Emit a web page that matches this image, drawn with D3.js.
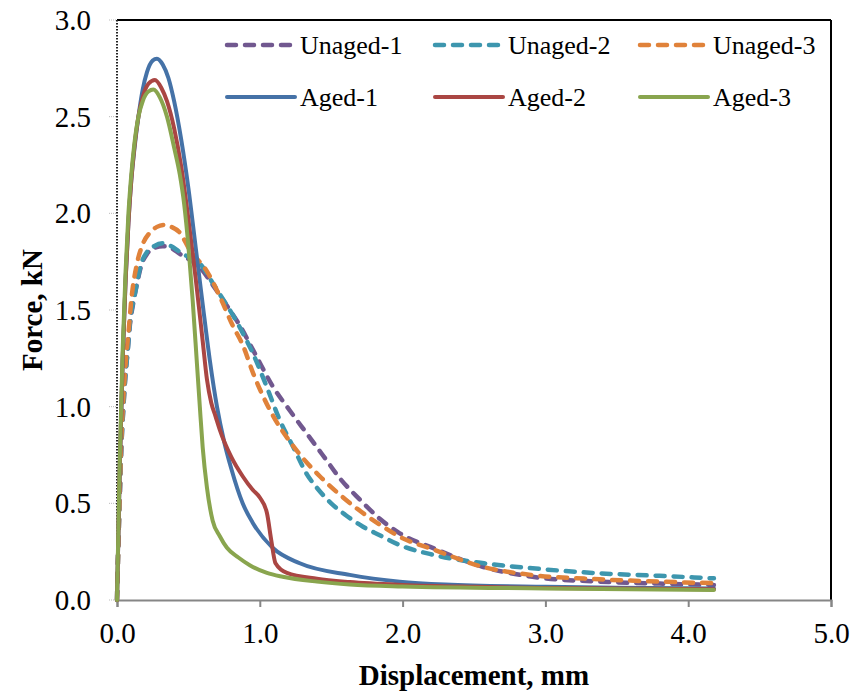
<!DOCTYPE html>
<html><head><meta charset="utf-8">
<script src="https://cdn.jsdelivr.net/npm/d3@7"></script>
<style>body{margin:0;background:#fff}svg{display:block}</style>
</head><body><svg id="c" width="867" height="694"></svg>
<script>
const seriesNames = ["Unaged-1","Unaged-2","Unaged-3","Aged-1","Aged-2","Aged-3"];
const seriesColors = ["#71588f","#3d96ae","#e0823a","#4572a7","#aa4643","#89a54e"];
const seriesDashed = [true,true,true,false,false,false];
const xTicks = [0,1,2,3,4,5];
const yTicks = [0,0.5,1,1.5,2,2.5,3];

const unaged1X = [0,0.01,0.02,0.03,0.045,0.06,0.075,0.09,0.11,0.13,0.15,0.17,0.21,0.26,0.32,0.38,0.44,0.51,0.58,0.67,0.79,0.86,0.955,1.095,1.21,1.33,1.47,1.56,1.7,1.84,1.98,2.22,2.56,2.91,3.38,3.8,4.18];
const unaged1Y = [0,0.3,0.55,0.78,1.0,1.17,1.29,1.42,1.52,1.6,1.67,1.73,1.79,1.82,1.83,1.82,1.79,1.76,1.72,1.63,1.5,1.42,1.29,1.1,0.98,0.86,0.72,0.63,0.52,0.42,0.345,0.267,0.172,0.12,0.095,0.085,0.078];

const unaged2X = [0,0.01,0.02,0.03,0.045,0.06,0.075,0.09,0.11,0.13,0.15,0.17,0.21,0.26,0.32,0.38,0.44,0.51,0.58,0.67,0.73,0.79,0.86,0.955,1.05,1.14,1.235,1.33,1.4,1.5,1.6,1.72,1.84,1.98,2.22,2.57,2.91,3.38,3.8,4.18];
const unaged2Y = [0,0.3,0.55,0.78,1.0,1.17,1.29,1.43,1.53,1.6,1.68,1.74,1.8,1.83,1.845,1.83,1.8,1.77,1.74,1.64,1.57,1.5,1.41,1.27,1.1,0.93,0.79,0.65,0.58,0.5,0.44,0.38,0.335,0.284,0.233,0.19,0.164,0.138,0.125,0.112];

const unaged3X = [0,0.01,0.02,0.03,0.045,0.068,0.08,0.1,0.14,0.18,0.23,0.28,0.33,0.38,0.44,0.51,0.63,0.72,0.81,0.88,0.955,1.095,1.21,1.33,1.42,1.6,1.84,1.98,2.22,2.56,2.91,3.38,3.8,4.18];
const unaged3Y = [0,0.3,0.58,0.82,1.05,1.29,1.38,1.55,1.74,1.84,1.9,1.93,1.94,1.93,1.9,1.81,1.7,1.57,1.42,1.32,1.17,0.95,0.82,0.71,0.64,0.52,0.39,0.327,0.26,0.172,0.129,0.107,0.095,0.087];

const aged1X = [0,0.01,0.02,0.04,0.06,0.08,0.1,0.12,0.15,0.18,0.21,0.25,0.28,0.32,0.36,0.4,0.45,0.5,0.55,0.6,0.65,0.7,0.75,0.8,0.88,0.95,1.09,1.28,1.63,1.98,2.3,3.0,3.5,4.18];
const aged1Y = [0,0.35,0.7,1.25,1.65,1.95,2.17,2.32,2.5,2.64,2.73,2.79,2.8,2.77,2.7,2.58,2.38,2.13,1.83,1.53,1.24,1.0,0.82,0.68,0.5,0.4,0.27,0.19,0.13,0.095,0.08,0.068,0.063,0.06];

const aged2X = [0,0.01,0.02,0.04,0.06,0.08,0.1,0.12,0.15,0.18,0.22,0.266,0.31,0.35,0.4,0.45,0.5,0.55,0.6,0.63,0.66,0.69,0.72,0.8,0.88,0.95,1.0,1.05,1.08,1.11,1.19,1.4,1.63,2.0,2.5,3.0,4.18];
const aged2Y = [0,0.35,0.7,1.25,1.65,1.95,2.17,2.33,2.5,2.6,2.67,2.69,2.65,2.58,2.44,2.24,1.97,1.67,1.34,1.14,1.02,0.95,0.88,0.74,0.64,0.57,0.53,0.45,0.31,0.19,0.14,0.11,0.093,0.078,0.068,0.062,0.055];

const aged3X = [0,0.01,0.02,0.04,0.06,0.08,0.1,0.12,0.15,0.18,0.22,0.255,0.3,0.35,0.4,0.44,0.47,0.5,0.53,0.56,0.58,0.6,0.63,0.67,0.72,0.77,0.85,0.93,1.05,1.16,1.4,1.63,2.0,3.0,4.18];
const aged3Y = [0,0.38,0.75,1.3,1.7,2.0,2.2,2.35,2.5,2.58,2.63,2.64,2.6,2.5,2.34,2.2,2.05,1.83,1.55,1.22,1.0,0.79,0.58,0.41,0.33,0.27,0.22,0.18,0.14,0.12,0.095,0.08,0.07,0.06,0.052];

const seriesX = [unaged1X,unaged2X,unaged3X,aged1X,aged2X,aged3X];
const seriesY = [unaged1Y,unaged2Y,unaged3Y,aged1Y,aged2Y,aged3Y];

const svg = d3.select("#c");
const L=117, R=831, T=20, B=600;
const x = d3.scaleLinear().domain([0,5]).range([L,R]);
const y = d3.scaleLinear().domain([0,3]).range([B,T]);
const font = "'Liberation Serif','Times New Roman',serif";

// frame top & right
svg.append("line").attr("x1",L).attr("x2",R).attr("y1",T).attr("y2",T).attr("stroke","#000").attr("stroke-width",2);
svg.append("line").attr("x1",R).attr("x2",R).attr("y1",T).attr("y2",B).attr("stroke","#000").attr("stroke-width",2);

// y ticks (faint)
svg.append("g").selectAll("line").data(yTicks).join("line")
  .attr("x1",L-8).attr("x2",L).attr("y1",d=>y(d)).attr("y2",d=>y(d))
  .attr("stroke","#bbb").attr("stroke-width",1).attr("stroke-dasharray","1,1");
svg.append("g").selectAll("text").data(yTicks).join("text")
  .attr("x",91).attr("y",d=>y(d)).attr("dy","0.35em").attr("text-anchor","end")
  .attr("font-family",font).attr("font-size",29).text(d=>d3.format(".1f")(d));

// x axis
const xAxis = d3.axisBottom(x).tickValues(xTicks).tickSize(7).tickFormat(d3.format(".1f"));
const gx = svg.append("g").attr("transform",`translate(0,${B})`).call(xAxis);
gx.select(".domain").attr("stroke","#868686").attr("stroke-width",2);
gx.selectAll(".tick line").attr("stroke","#868686").attr("stroke-width",2);
gx.selectAll(".tick text").attr("font-family",font).attr("font-size",29).attr("fill","#000")
  .attr("y",43).attr("dy",0);

// left axis (dotted dark)
svg.append("line").attr("x1",L).attr("x2",L).attr("y1",T).attr("y2",B).attr("stroke","#222").attr("stroke-width",2).attr("stroke-dasharray","1.5,1.5");

// series
const line = d3.line().x(d=>x(d[0])).y(d=>y(d[1])).curve(d3.curveMonotoneX);
seriesNames.forEach((n,i)=>{
  const pts = seriesX[i].map((v,j)=>[v,seriesY[i][j]]);
  svg.append("path").datum(pts).attr("d",line).attr("fill","none")
    .attr("stroke",seriesColors[i]).attr("stroke-width",seriesDashed[i]?4.5:4)
    .attr("stroke-linecap","round").attr("stroke-linejoin","round")
    .attr("stroke-dasharray",seriesDashed[i]?"9,9":null);
});

// legend
const legCols=[225,433,638], legRows=[45,97];
seriesNames.forEach((n,i)=>{
  const cx=legCols[i%3], cy=legRows[Math.floor(i/3)];
  svg.append("line").attr("x1",cx+2).attr("x2",cx+70).attr("y1",cy).attr("y2",cy)
    .attr("stroke",seriesColors[i]).attr("stroke-width",seriesDashed[i]?4.5:4)
    .attr("stroke-linecap","round").attr("stroke-dasharray",seriesDashed[i]?"9,9":null);
  svg.append("text").attr("x",cx+75).attr("y",cy).attr("dy","0.35em")
    .attr("font-family",font).attr("font-size",26).text(n);
});

// axis titles
svg.append("text").attr("x",474).attr("y",685).attr("text-anchor","middle")
  .attr("font-family",font).attr("font-size",29).attr("font-weight","bold").text("Displacement, mm");
svg.append("text").attr("transform","translate(42,310) rotate(-90)").attr("text-anchor","middle")
  .attr("font-family",font).attr("font-size",29).attr("font-weight","bold").text("Force, kN");
</script></body></html>
